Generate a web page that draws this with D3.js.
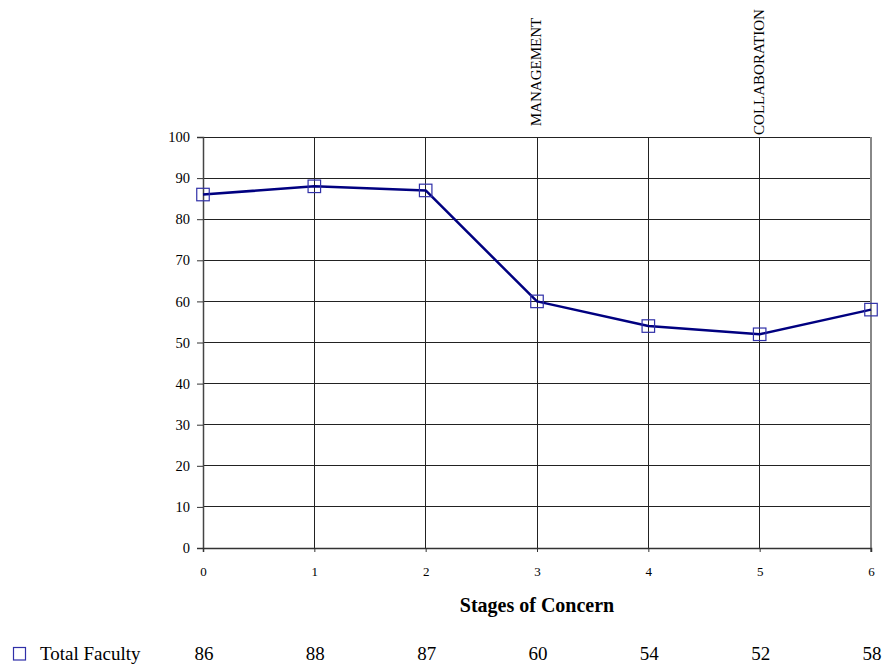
<!DOCTYPE html>
<html>
<head>
<meta charset="utf-8">
<script src="https://cdn.jsdelivr.net/npm/d3@7"></script>
<style>
  html, body { margin: 0; padding: 0; background: #fff; }
  svg { display: block; font-family: "Liberation Serif", "Times New Roman", serif; }
</style>
</head>
<body>
<svg id="chart" width="890" height="666"></svg>
<script>
// Stages of Concern profile for total faculty
const stages = [0, 1, 2, 3, 4, 5, 6];
const totalFaculty = [86, 88, 87, 60, 54, 52, 58];
const yTicks = [0, 10, 20, 30, 40, 50, 60, 70, 80, 90, 100];
const stageNotes = [
  { stage: 3, label: "MANAGEMENT" },
  { stage: 5, label: "COLLABORATION" }
];
const seriesName = "Total Faculty";
const axisTitle = "Stages of Concern";

const svg = d3.select("#chart");
const plotLeft = 203, plotRight = 871, plotTop = 137, plotBottom = 548;
const navy = "#000080";
const serif = "Liberation Serif";

const x = d3.scaleLinear().domain([0, 6]).range([plotLeft, plotRight]);
const y = d3.scaleLinear().domain([0, 100]).range([plotBottom, plotTop]);

// horizontal gridlines
svg.append("g").selectAll("line").data(yTicks).join("line")
  .attr("x1", plotLeft).attr("x2", plotRight)
  .attr("y1", d => y(d)).attr("y2", d => y(d))
  .attr("stroke", "#222").attr("stroke-width", 1).attr("shape-rendering", "crispEdges");

// vertical gridlines
svg.append("g").selectAll("line").data(stages.slice(1, -1)).join("line")
  .attr("x1", d => x(d)).attr("x2", d => x(d))
  .attr("y1", plotTop).attr("y2", plotBottom)
  .attr("stroke", "#222").attr("stroke-width", 1).attr("shape-rendering", "crispEdges");

// right border
svg.append("line")
  .attr("x1", plotRight).attr("x2", plotRight).attr("y1", plotTop).attr("y2", plotBottom + 4)
  .attr("stroke", "#888").attr("stroke-width", 2);

// y axis
const yAxis = d3.axisLeft(y).tickValues(yTicks).tickSize(6).tickPadding(7);
const gy = svg.append("g").attr("transform", `translate(${plotLeft},0)`).call(yAxis);
gy.attr("font-family", serif).attr("font-size", 14.5);
gy.select(".domain").attr("stroke", "#444").attr("stroke-width", 1.5);
gy.selectAll(".tick line").attr("stroke", "#333");
gy.selectAll(".tick text").attr("fill", "#000");

// x axis
const xAxis = d3.axisBottom(x).tickValues(stages).tickSize(4).tickPadding(15).tickFormat(d3.format("d"));
const gx = svg.append("g").attr("transform", `translate(0,${plotBottom})`).call(xAxis);
gx.attr("font-family", serif).attr("font-size", 13);
gx.select(".domain").attr("stroke", "#333").attr("stroke-width", 1.5);
gx.selectAll(".tick line").attr("stroke", "#333");
gx.selectAll(".tick text").attr("fill", "#000");

// axis title
svg.append("text")
  .attr("x", (plotLeft + plotRight) / 2).attr("y", 612)
  .attr("text-anchor", "middle")
  .attr("font-size", 20).attr("font-weight", "bold")
  .text(axisTitle);

// rotated stage notes above the plot
svg.append("g").selectAll("text").data(stageNotes).join("text")
  .attr("transform", d => `translate(${x(d.stage) + 4},72) rotate(-90)`)
  .attr("text-anchor", "middle")
  .attr("font-size", 15)
  .text(d => d.label);

// series line
const line = d3.line().x((d, i) => x(stages[i])).y(d => y(d));
svg.append("path")
  .datum(totalFaculty)
  .attr("d", line)
  .attr("fill", "none").attr("stroke", navy).attr("stroke-width", 2.5)
  .attr("stroke-linejoin", "round");

// markers
const m = 12.5;
svg.append("g").selectAll("rect").data(totalFaculty).join("rect")
  .attr("x", (d, i) => x(stages[i]) - m / 2)
  .attr("y", d => y(d) - m / 2)
  .attr("width", m).attr("height", m)
  .attr("fill", "none").attr("stroke", "#3030a8").attr("stroke-width", 1.2);

// data table row
const rowY = 660;
svg.append("rect")
  .attr("x", 13.5).attr("y", 647.5).attr("width", 12).attr("height", 12.5)
  .attr("fill", "none").attr("stroke", "#3030a8").attr("stroke-width", 1.2);
svg.append("text")
  .attr("x", 40).attr("y", rowY)
  .attr("font-size", 19)
  .text(seriesName);
svg.append("g").selectAll("text").data(totalFaculty).join("text")
  .attr("x", (d, i) => x(stages[i]) + 1)
  .attr("y", rowY)
  .attr("text-anchor", "middle")
  .attr("font-size", 19)
  .text(d => d);
</script>
</body>
</html>
